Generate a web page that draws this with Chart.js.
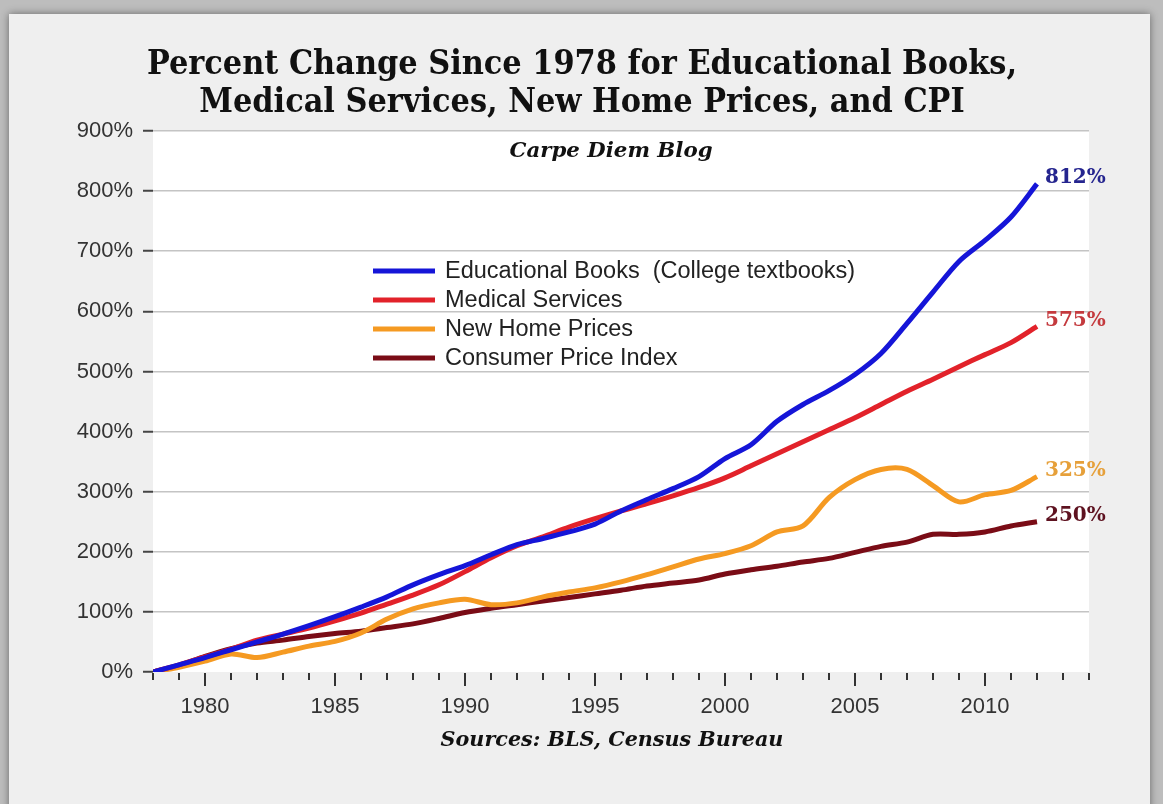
<!DOCTYPE html>
<html>
<head>
<meta charset="utf-8">
<script src="https://cdn.jsdelivr.net/npm/chart.js@4.4.0/dist/chart.umd.min.js"></script>
<style>
  html, body { margin: 0; padding: 0; width: 1163px; height: 804px; overflow: hidden; background: #bdbdbd; }
  #panel { position: absolute; left: 9px; top: 14px; width: 1141px; height: 800px; background: #efefef; box-shadow: 0 0 8px rgba(0,0,0,0.45); }
  #wrap { position: absolute; left: 0; top: 0; width: 1163px; height: 804px; }
</style>
</head>
<body>
<div id="panel"></div>
<div id="wrap"><canvas id="chart" width="1163" height="804"></canvas></div>
<script>
// data (percent change since 1978)
const years = [1978, 1979, 1980, 1981, 1982, 1983, 1984, 1985, 1986, 1987, 1988, 1989,
  1990, 1991, 1992, 1993, 1994, 1995, 1996, 1997, 1998, 1999, 2000, 2001, 2002, 2003,
  2004, 2005, 2006, 2007, 2008, 2009, 2010, 2011, 2012];
const eduBooks = [0, 12, 24, 37, 50, 63, 77, 92, 108, 125, 145, 162, 177, 195, 212, 222,
  233, 246, 268, 287, 305, 325, 355, 378, 417, 445, 468, 495, 530, 580, 632, 683, 718, 757, 812];
const medical = [0, 12, 25, 38, 53, 63, 73, 85, 98, 113, 128, 145, 167, 190, 210, 225,
  241, 255, 268, 280, 293, 307, 323, 343, 363, 383, 403, 423, 445, 467, 487, 508, 528, 548, 575];
const homePrices = [0, 8, 18, 30, 24, 33, 43, 51, 65, 88, 105, 115, 121, 112, 115, 125,
  133, 140, 150, 162, 175, 188, 197, 210, 233, 243, 290, 320, 337, 337, 310, 283, 295, 302, 325];
const cpi = [0, 11, 26, 39, 48, 53, 59, 64, 68, 74, 80, 89, 99, 106, 112, 118, 124, 130,
  136, 143, 148, 153, 163, 170, 176, 183, 189, 199, 209, 216, 229, 229, 233, 243, 250];

const seriesNames = ["Educational Books  (College textbooks)", "Medical Services", "New Home Prices", "Consumer Price Index"];
const seriesValues = [eduBooks, medical, homePrices, cpi];
const lineColors = ["#1515d8", "#e2222a", "#f59a22", "#7a0c16"];
const endLabelColors = ["#25258f", "#c43a3e", "#e6a03a", "#5e1220"];

const titleLines = ["Percent Change Since 1978 for Educational Books,", "Medical Services, New Home Prices, and CPI"];
const subTitle = "Carpe Diem Blog";
const sourceText = "Sources: BLS, Census Bureau";

const SANS = '"Liberation Sans", Arial, sans-serif';
const SERIF = '"DejaVu Serif", serif';

const decor = {
  id: "decor",
  beforeDraw(chart) {
    const { ctx, chartArea: a } = chart;
    ctx.save();
    ctx.fillStyle = "#ffffff";
    ctx.fillRect(a.left, a.top, a.right - a.left, a.bottom - a.top);
    ctx.restore();
  },
  afterDatasetsDraw(chart) {
    const { ctx, chartArea: a } = chart;
    const xs = chart.scales.x;
    ctx.save();

    // year tick marks, longer on every fifth year
    ctx.strokeStyle = "#333";
    ctx.lineWidth = 2;
    xs.ticks.forEach(t => {
      const px = Math.round(xs.getPixelForValue(t.value));
      const len = t.value % 5 === 0 ? 14 : 8;
      ctx.beginPath();
      ctx.moveTo(px, a.bottom + 1);
      ctx.lineTo(px, a.bottom + len);
      ctx.stroke();
    });

    // legend inside the plot
    ctx.font = "23.5px " + SANS;
    ctx.textBaseline = "middle";
    ctx.textAlign = "left";
    chart.data.datasets.forEach((ds, i) => {
      const y = a.top + 140 + i * 29;
      ctx.strokeStyle = ds.borderColor;
      ctx.lineWidth = 5;
      ctx.beginPath();
      ctx.moveTo(a.left + 220, y);
      ctx.lineTo(a.left + 282, y);
      ctx.stroke();
      ctx.fillStyle = "#222";
      ctx.fillText(ds.label, a.left + 292, y + 1);
    });

    // end-of-line value labels
    ctx.font = "bold 20px " + SERIF;
    chart.data.datasets.forEach((ds, i) => {
      const meta = chart.getDatasetMeta(i);
      const last = meta.data[meta.data.length - 1];
      ctx.fillStyle = endLabelColors[i];
      ctx.fillText(ds.data[ds.data.length - 1] + "%", last.x + 8, last.y - 6);
    });

    ctx.fillStyle = "#111";
    ctx.textAlign = "center";
    ctx.font = "italic bold 21.3px " + SERIF;
    ctx.fillText(subTitle, 611, a.top + 20);
    ctx.font = "italic bold 20.7px " + SERIF;
    ctx.fillText(sourceText, 612, 741);

    ctx.font = 'bold 33.8px "DejaVu Serif Condensed", "Liberation Serif", serif';
    ctx.fillText(titleLines[0], 582, 65);
    ctx.fillText(titleLines[1], 582, 103);
    ctx.restore();
  }
};

new Chart(document.getElementById("chart"), {
  type: "line",
  data: {
    labels: years,
    datasets: seriesValues.map((vals, i) => ({
      label: seriesNames[i],
      data: vals,
      borderColor: lineColors[i],
      backgroundColor: lineColors[i],
      borderWidth: 5,
      pointRadius: 0,
      tension: 0.3,
      fill: false
    }))
  },
  options: {
    responsive: false,
    animation: false,
    layout: { padding: { top: 131, left: 0, right: 74, bottom: 72 } },
    plugins: { legend: { display: false }, tooltip: { enabled: false } },
    scales: {
      x: {
        type: "linear",
        min: 1978,
        max: 2014,
        border: { display: false },
        grid: { display: false, drawTicks: false },
        afterFit: s => { s.height = 60; },
        ticks: {
          stepSize: 1,
          autoSkip: false,
          maxRotation: 0,
          padding: 22,
          color: "#333",
          font: { family: SANS, size: 22 },
          callback: v => (v % 5 === 0 ? String(v) : "")
        }
      },
      y: {
        min: 0,
        max: 900,
        border: { display: false },
        afterFit: s => { s.width = 153; },
        grid: {
          color: c => (c.tick && c.tick.value === 0 ? "rgba(0,0,0,0)" : "#c4c4c4"),
          lineWidth: 1.5,
          tickColor: "#444",
          tickWidth: 2,
          tickLength: 10
        },
        ticks: {
          stepSize: 100,
          padding: 10,
          color: "#333",
          font: { family: SANS, size: 22 },
          callback: v => v + "%"
        }
      }
    }
  },
  plugins: [decor]
});
</script>
</body>
</html>
